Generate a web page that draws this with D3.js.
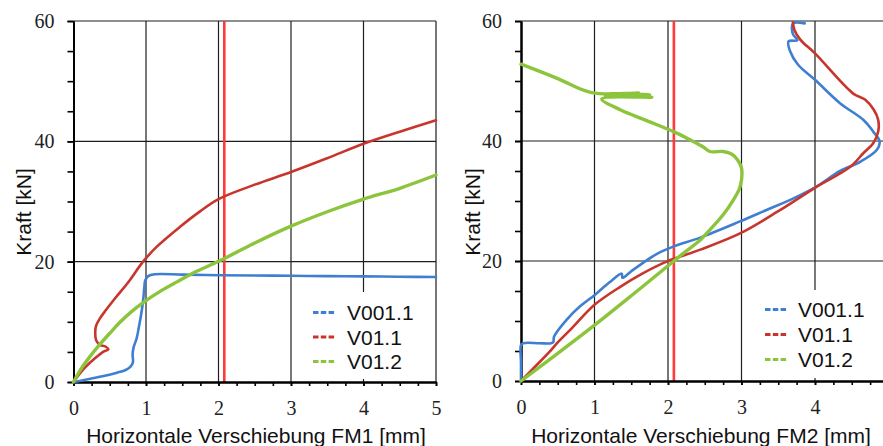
<!DOCTYPE html>
<html><head><meta charset="utf-8">
<script src="https://cdn.jsdelivr.net/npm/d3@7"></script>
<style>
html,body{margin:0;padding:0;background:#fff;}
svg{display:block;}
</style></head>
<body>
<svg id="chart" width="883" height="446"></svg>
<script>
// ---------- data ----------
const xTickValues = [0, 1, 2, 3, 4, 5];
const yTickValues = [0, 20, 40, 60];
const seriesNames = ["V001.1", "V01.1", "V01.2"];
const xTitles = ["Horizontale Verschiebung FM1 [mm]", "Horizontale Verschiebung FM2 [mm]"];
const yTitle = "Kraft [kN]";
const limitX = 2.08; // red vertical reference line [mm]

// FM1 panel: [displacement mm, force kN]
const fm1_V001_1 = [[0,0],[0.2,0.45],[0.4,0.95],[0.6,1.55],[0.72,2.0],[0.79,2.6],[0.82,3.3],[0.815,4.6],[0.83,5.8],[0.87,7.2],[0.9,9],[0.93,11],[0.96,13.5],[0.975,15.5],[0.99,16.9],[1.03,17.6],[1.12,17.9],[1.5,17.85],[2,17.75],[2.5,17.7],[3,17.65],[3.5,17.6],[4,17.55],[4.5,17.5],[5,17.45]];
const fm1_V01_1 = [[0,0],[0.15,2.3],[0.3,4.0],[0.42,5.1],[0.48,5.4],[0.44,5.9],[0.36,6.2],[0.31,7.0],[0.30,8.3],[0.31,9.3],[0.36,10.5],[0.45,12.0],[0.58,14.0],[0.75,16.5],[0.96,20],[1.15,22.5],[1.47,25.8],[1.75,28.4],[2.0,30.4],[2.5,32.8],[3,34.9],[3.5,37.2],[4,39.6],[4.5,41.6],[5,43.5]];
const fm1_V01_2 = [[0,0],[0.1,2.1],[0.2,3.8],[0.36,6.2],[0.5,8.1],[0.63,9.8],[0.8,11.7],[0.96,13.2],[1.2,15.1],[1.42,16.6],[1.7,18.4],[2.06,20.4],[2.5,23.1],[3,25.9],[3.5,28.3],[4,30.4],[4.5,32.2],[5,34.4]];

// FM2 panel
const fm2_V001_1 = [[0,0],[0,3],[0,6.0],[0.03,6.3],[0.25,6.3],[0.41,6.3],[0.44,6.5],[0.45,7.4],[0.62,10.2],[0.8,12.4],[1.0,14.3],[1.2,16.4],[1.37,17.9],[1.38,17.2],[1.5,18.3],[1.66,19.7],[1.85,21.2],[2.07,22.4],[2.44,23.9],[2.98,26.6],[3.34,28.5],[3.7,30.4],[4.02,32.4],[4.34,35.0],[4.61,36.5],[4.84,38.5],[4.88,39.9],[4.79,41.6],[4.66,43.5],[4.34,46.3],[4.0,50.2],[3.77,52.7],[3.66,55.0],[3.64,56.6],[3.76,56.8],[3.70,57.8],[3.70,59.6],[3.86,59.6]];
const fm2_V01_1 = [[0,0],[0.2,2.5],[0.39,4.9],[0.49,6.3],[0.7,8.9],[1.0,12.7],[1.35,15.7],[1.65,17.9],[1.98,19.9],[2.44,21.9],[2.98,24.6],[3.5,28.3],[4.0,32.2],[4.48,35.7],[4.66,38.0],[4.79,39.6],[4.86,41.6],[4.86,43.5],[4.80,45.2],[4.68,46.9],[4.52,47.9],[4.0,54.6],[3.80,56.9],[3.72,58.5],[3.70,59.8]];
const fm2_V01_2 = [[0,0],[0.5,4.6],[1.0,9.3],[1.5,14.2],[1.98,19.0],[2.2,21.2],[2.44,23.5],[2.57,25.2],[2.75,27.7],[2.89,30.2],[2.97,32],[3.0,33.5],[3.0,35.5],[2.95,36.8],[2.87,37.8],[2.75,38.25],[2.57,38.25],[2.48,39.0],[2.30,40.2],[2.07,41.6],[1.71,43.4],[1.35,45.2],[1.10,47.0],[1.78,47.3],[1.15,47.5],[1.75,47.7],[1.2,47.85],[1.6,48.0],[0.96,48.05],[0.5,50.4],[0,52.8]];

// ---------- drawing ----------
const colors = ["#3f7fd2", "#c8352c", "#8cc43c"];
const widths = [2.6, 2.6, 3.4];
const svg = d3.select("#chart");

const panels = [
  {xr:[73.5, 436], yr:[382, 21], series:[fm1_V001_1, fm1_V01_1, fm1_V01_2], title:xTitles[0],
   ytx:31, xtc:256, legend:{x0:300, x1:435, y0:292, y1:379, dash:[313,335], tx:347, base:[320,344.5,369]}},
  {xr:[521, 888.5], yr:[381, 21], series:[fm2_V001_1, fm2_V01_1, fm2_V01_2], title:xTitles[1],
   ytx:480, xtc:701, legend:{x0:755, x1:883, y0:290, y1:378, dash:[765,787], tx:798, base:[317,342,367]}}
];

panels.forEach(p => {
  const x = d3.scaleLinear().domain([0,5]).range(p.xr);
  const y = d3.scaleLinear().domain([0,60]).range(p.yr);
  const g = svg.append("g");

  // gridlines
  g.append("g").selectAll("line").data(xTickValues.slice(1)).join("line")
    .attr("x1", d => x(d)).attr("x2", d => x(d)).attr("y1", y(0)).attr("y2", y(60))
    .attr("stroke", "#1e1e1e").attr("stroke-width", 1.2);
  g.append("g").selectAll("line").data(yTickValues.slice(1)).join("line")
    .attr("x1", x(0)).attr("x2", x(5)).attr("y1", d => y(d)).attr("y2", d => y(d))
    .attr("stroke", "#1e1e1e").attr("stroke-width", 1.2);

  // legend background (hides gridline behind)
  const L = p.legend;
  g.append("rect").attr("x", L.x0).attr("y", L.y0).attr("width", L.x1 - L.x0).attr("height", L.y1 - L.y0)
    .attr("fill", "#fff");

  // red reference line
  g.append("line").attr("x1", x(limitX)).attr("x2", x(limitX)).attr("y1", y(0)).attr("y2", y(60))
    .attr("stroke", "#ff3a3a").attr("stroke-width", 2.6);

  // axes
  const ax = g.append("g").attr("transform", `translate(0,${y(0)})`);
  ax.call(d3.axisBottom(x).tickValues(d3.range(0, 5.001, 0.25)).tickSize(4).tickSizeOuter(0).tickFormat(""));
  const ax2 = g.append("g").attr("transform", `translate(0,${y(0)})`);
  ax2.call(d3.axisBottom(x).tickValues(xTickValues).tickSize(4).tickSizeOuter(0).tickPadding(15).tickFormat(d3.format("d")));
  const ay = g.append("g").attr("transform", `translate(${x(0)},0)`);
  ay.call(d3.axisLeft(y).tickValues(d3.range(0, 60.001, 5)).tickSize(6).tickSizeOuter(0).tickFormat(""));
  const ay2 = g.append("g").attr("transform", `translate(${x(0)},0)`);
  ay2.call(d3.axisLeft(y).tickValues(yTickValues).tickSize(6).tickSizeOuter(0).tickPadding(13).tickFormat(d3.format("d")));
  [ax, ax2, ay, ay2].forEach(a => {
    a.selectAll("path.domain").attr("stroke", "#000").attr("stroke-width", 2);
    a.selectAll(".tick line").attr("stroke", "#000").attr("stroke-width", 1.6);
    a.selectAll("text").attr("font-family", "'Liberation Serif','Times New Roman',serif")
      .attr("font-size", 20).attr("fill", "#222");
  });

  // series (drawn above axes)
  const line = d3.line().x(d => x(d[0])).y(d => y(d[1])).curve(d3.curveCatmullRom.alpha(0.5));
  p.series.forEach((s, i) => {
    g.append("path").datum(s).attr("d", line).attr("fill", "none")
      .attr("stroke", colors[i]).attr("stroke-width", widths[i])
      .attr("stroke-linejoin", "round").attr("stroke-linecap", "round");
  });

  // axis titles
  g.append("text").attr("x", p.xtc).attr("y", 443).attr("text-anchor", "middle")
    .attr("font-family", "'Liberation Sans',Arial,sans-serif").attr("font-size", 21).attr("fill", "#111")
    .text(p.title);
  g.append("text").attr("transform", `translate(${p.ytx},212) rotate(-90)`).attr("text-anchor", "middle")
    .attr("font-family", "'Liberation Sans',Arial,sans-serif").attr("font-size", 21).attr("fill", "#111")
    .text(yTitle);

  // legend
  seriesNames.forEach((n, i) => {
    g.append("line").attr("x1", L.dash[0]).attr("x2", L.dash[1])
      .attr("y1", L.base[i] - 7.5).attr("y2", L.base[i] - 7.5)
      .attr("stroke", colors[i]).attr("stroke-width", 3).attr("stroke-dasharray", "5.5,2.3");
    g.append("text").attr("x", L.tx).attr("y", L.base[i])
      .attr("font-family", "'Liberation Sans',Arial,sans-serif").attr("font-size", 21).attr("fill", "#111")
      .text(n);
  });
});
</script>
</body></html>
